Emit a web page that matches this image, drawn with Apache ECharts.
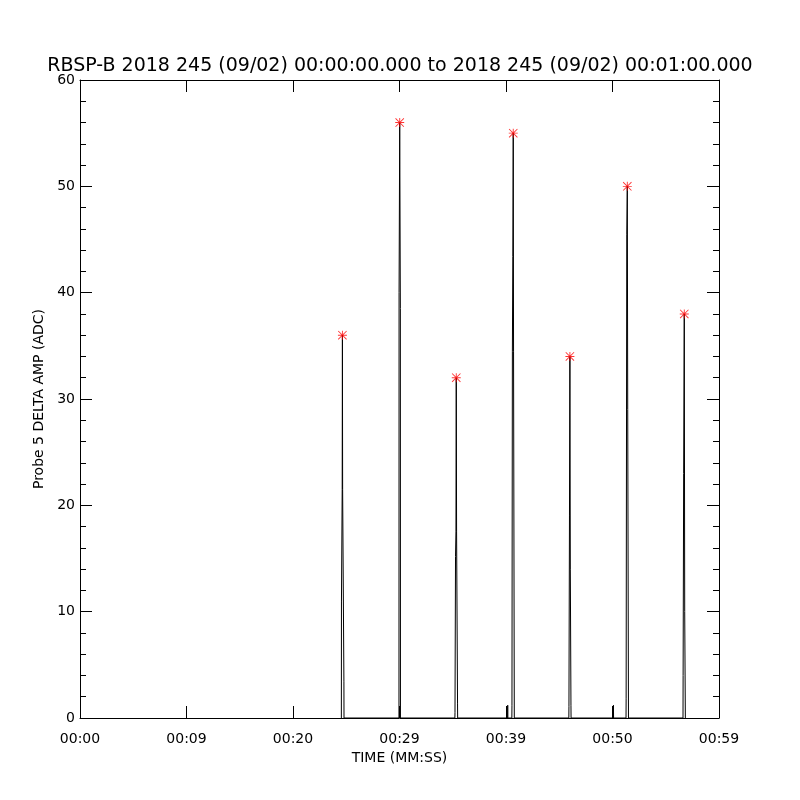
<!DOCTYPE html>
<html>
<head>
<meta charset="utf-8">
<script src="https://cdn.jsdelivr.net/npm/echarts@6/dist/echarts.min.js"></script>
<style>
html,body{margin:0;padding:0;background:#fff;}
#chart{width:800px;height:800px;}
</style>
</head>
<body>
<div id="chart"></div>
<script>
// ---- data (seconds since 00:00:00, amplitude in ADC) ----
var titleText = 'RBSP-B 2018 245 (09/02) 00:00:00.000 to 2018 245 (09/02) 00:01:00.000';
var xTickLabels = ['00:00', '00:09', '00:20', '00:29', '00:39', '00:50', '00:59'];
var sampleTimes = [
  24.54, 24.55, 24.62, 24.64, 24.66, 24.78, 24.79,
  29.95, 29.96, 30.02, 30.08, 30.09,
  35.20, 35.21, 35.26, 35.30, 35.33, 35.36, 35.45, 35.46,
  40.15, 40.16, 40.17,
  40.55, 40.56, 40.60, 40.64, 40.68, 40.71, 40.78,
  45.90, 45.91, 45.96, 46.00, 46.04, 46.10, 46.11,
  50.08, 50.09, 50.10,
  51.27, 51.28, 51.34, 51.39, 51.43, 51.50,
  56.62, 56.63, 56.68, 56.74, 56.78, 56.84
];
var sampleAmps = [
  0, 11, 21.5, 36, 21.5, 3.4, 0,
  0, 40, 56, 38.5, 0,
  0, 0.5, 15.2, 17.5, 32, 17.5, 1.4, 0,
  0, 1.2, 0,
  0, 1.2, 34.5, 43.4, 55, 34.5, 0,
  0, 1.1, 19, 34, 14, 1.2, 0,
  0, 1.2, 0,
  0, 1.8, 45.5, 50, 29, 0,
  0, 4, 23, 38, 10, 0
];
var peakTimes = [24.64, 30.02, 35.33, 40.68, 46.00, 51.39, 56.74];
var peakAmps = [36, 56, 32, 55, 34, 50, 38];

var lineData = sampleTimes.map(function (t, i) { return [t, sampleAmps[i]]; });
var peakData = peakTimes.map(function (t, i) { return [t, peakAmps[i]]; });

var starPath = 'path://M0 4.5 H10 V5.5 H0 Z M4.5 0 H5.5 V10 H4.5 Z M0.7 0 L10 9.3 L9.3 10 L0 0.7 Z M9.3 0 L10 0.7 L0.7 10 L0 9.3 Z';

var FONT = 'DejaVu Sans';
var GRID = { left: 80, right: 81, top: 80, bottom: 82 };
var GW = 800 - GRID.left - GRID.right;   // plot width
var GH = 800 - GRID.top - GRID.bottom;   // plot height
var ls = { color: '#000', width: 1 };

function xAx(extra) {
  return Object.assign({
    type: 'value', min: 0, max: 60, interval: 10,
    axisLine: { show: false, onZero: false, lineStyle: ls },
    axisTick: { show: false, length: 12, lineStyle: ls },
    axisLabel: { show: false },
    splitLine: { show: false }
  }, extra);
}
function yAx(extra) {
  return Object.assign({
    type: 'value', min: 0, max: 60, interval: 10,
    axisLine: { show: false, onZero: false, lineStyle: ls },
    axisTick: { show: false, length: 12, lineStyle: ls },
    minorTick: { show: false, splitNumber: 5, length: 6, lineStyle: ls },
    axisLabel: { show: false },
    splitLine: { show: false }
  }, extra);
}

var chart = echarts.init(document.getElementById('chart'), null, { renderer: 'canvas' });
chart.setOption({
  animation: false,
  backgroundColor: '#fff',
  title: {
    text: titleText,
    left: 'center',
    top: 52,
    textStyle: { fontFamily: FONT, fontSize: 19, fontWeight: 'normal', color: '#000' }
  },
  grid: GRID,
  xAxis: [
    // bottom axis: line, labels, name
    xAx({
      position: 'bottom',
      axisLine: { show: true, onZero: false, lineStyle: ls },
      axisLabel: {
        show: true, margin: 14, color: '#000', fontFamily: FONT, fontSize: 14,
        formatter: function (v) { return xTickLabels[Math.round(v / 10)]; }
      },
      name: 'TIME (MM:SS)', nameLocation: 'middle', nameGap: 33,
      nameTextStyle: { fontFamily: FONT, fontSize: 14, color: '#000' }
    }),
    // inward ticks on the bottom edge
    xAx({ position: 'top', offset: -GH, axisTick: { show: true, length: 12, lineStyle: ls } }),
    // top edge: line + inward ticks
    xAx({ position: 'bottom', offset: -GH,
      axisLine: { show: true, onZero: false, lineStyle: ls },
      axisTick: { show: true, length: 12, lineStyle: ls } })
  ],
  yAxis: [
    yAx({
      position: 'left',
      axisLine: { show: true, onZero: false, lineStyle: ls },
      axisLabel: { show: true, margin: 5, color: '#000', fontFamily: FONT, fontSize: 14 },
      name: 'Probe 5 DELTA AMP (ADC)', nameLocation: 'middle', nameGap: 31, nameRotate: 90,
      nameTextStyle: { fontFamily: FONT, fontSize: 14, color: '#000' }
    }),
    // inward ticks on the left edge
    yAx({ position: 'right', offset: -GW,
      axisTick: { show: true, length: 12, lineStyle: ls },
      minorTick: { show: true, splitNumber: 5, length: 6, lineStyle: ls } }),
    // right edge: line + inward ticks
    yAx({ position: 'left', offset: -GW,
      axisLine: { show: true, onZero: false, lineStyle: ls },
      axisTick: { show: true, length: 12, lineStyle: ls },
      minorTick: { show: true, splitNumber: 5, length: 6, lineStyle: ls } })
  ],
  series: [
    {
      type: 'line', xAxisIndex: 0, yAxisIndex: 0,
      data: lineData, showSymbol: false, symbol: 'none',
      lineStyle: { color: '#000', width: 1 },
      z: 3
    },
    {
      type: 'scatter', xAxisIndex: 0, yAxisIndex: 0,
      data: peakData, symbol: starPath, symbolSize: 9,
      itemStyle: { color: '#ff0000' },
      z: 4
    }
  ]
});
</script>
</body>
</html>
